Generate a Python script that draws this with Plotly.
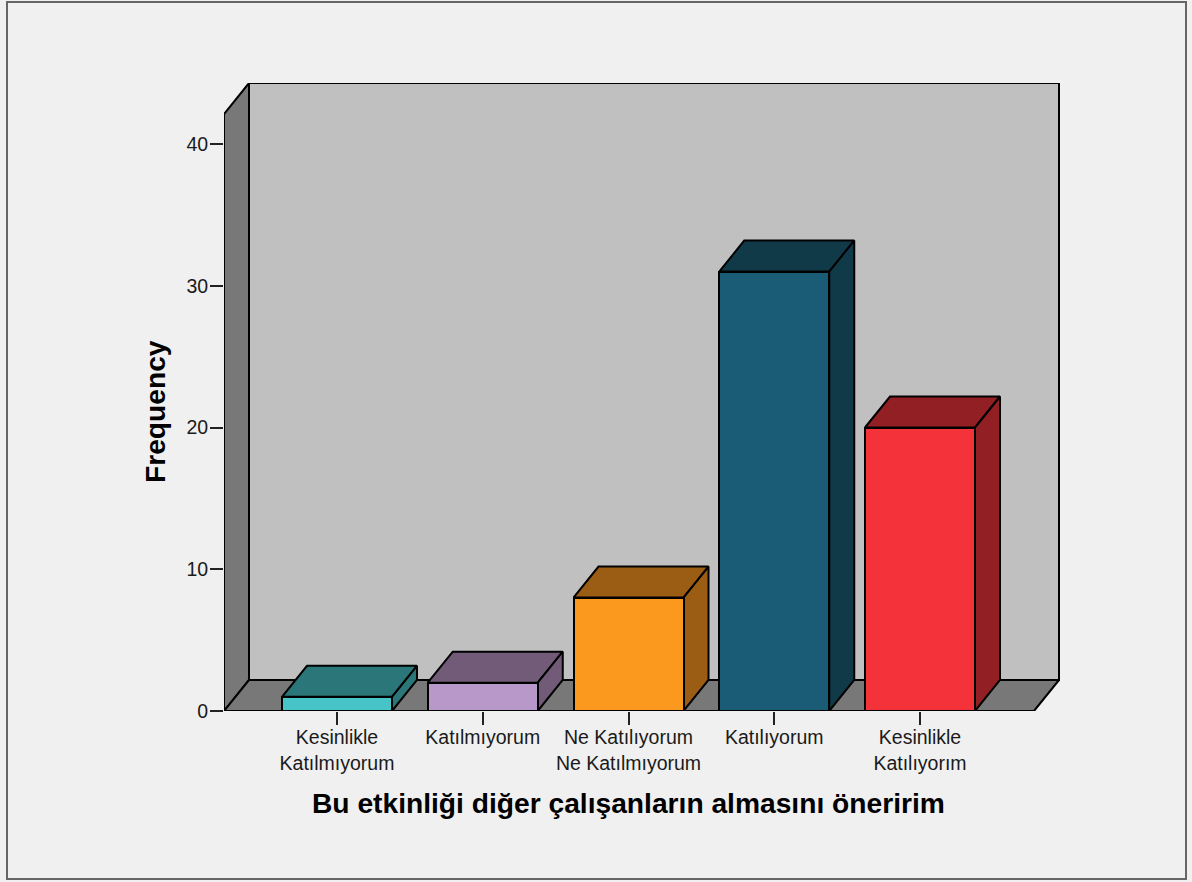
import plotly.graph_objects as go

categories = ["Kesinlikle<br>Katılmıyorum", "Katılmıyorum", "Ne Katılıyorum<br>Ne Katılmıyorum",
              "Katılıyorum", "Kesinlikle<br>Katılıyorım"]
frequency = [1, 2, 8, 31, 20]
front_colors = ["#47c4c8", "#b898c9", "#fb991f", "#1a5c75", "#f33339"]
side_colors = ["#2b7678", "#725b79", "#9b5c13", "#113a49", "#921f23"]
y_ticks = [0, 10, 20, 30, 40]
x_title = "Bu etkinliği diğer çalışanların almasını öneririm"
y_title = "Frequency"

W, H = 1192, 882
L, R, T, B = 224, 1060, 83, 711       # plot area in page pixels
PX_X = 145.75                          # pixels per category
PX_Y = 14.175                          # pixels per frequency unit
FIRST = 337                            # pixel centre of the first bar
DX, DY = 25 / PX_X, 31 / PX_Y          # 3-D depth in data units
BAR_W = 110 / PX_X
x0 = (L - FIRST) / PX_X
x1 = (R - FIRST) / PX_X
xf = x1 - DX - 1 / PX_X                # right end of the front floor edge
y1 = (B - T) / PX_Y
ytop = y1 - DY

LINE = dict(color="#000000", width=2)
FONT = "Liberation Sans, Arial, sans-serif"


def poly(xs, ys, fill, name):
    return go.Scatter(x=xs + xs[:1], y=ys + ys[:1], mode="lines", fill="toself",
                      fillcolor=fill, line=LINE, cliponaxis=False, showlegend=False,
                      hoverinfo="skip", name=name)


fig = go.Figure()
fig.add_trace(poly([x0 + DX, x1 - 1 / PX_X, x1 - 1 / PX_X, x0 + DX], [DY, DY, y1, y1], "#c0c0c0", "back wall"))
fig.add_trace(poly([x0, x0 + DX, x0 + DX, x0], [0, DY, y1, ytop], "#787878", "side wall"))
fig.add_trace(poly([x0, xf, x1 - 1 / PX_X, x0 + DX], [0, 0, DY, DY], "#787878", "floor"))

for i, v in enumerate(frequency):
    a, b = i - BAR_W / 2, i + BAR_W / 2
    fig.add_trace(poly([a, b, b + DX, a + DX], [v, v, v + DY, v + DY], side_colors[i], "top"))
    fig.add_trace(poly([b, b + DX, b + DX, b], [0, DY, v + DY, v], side_colors[i], "side"))

# the front faces sit on an overlaid subplot so they paint above the filled walls
fig.add_trace(go.Bar(x=list(range(len(frequency))), y=frequency, width=BAR_W, xaxis="x2", yaxis="y2",
                     marker=dict(color=front_colors, line=LINE), cliponaxis=False,
                     showlegend=False, name=y_title))

fig.update_layout(
    width=W, height=H, autosize=False,
    margin=dict(l=L, r=W - R, t=T, b=H - B, pad=0),
    paper_bgcolor="#f0f0f0", plot_bgcolor="rgba(0,0,0,0)",
    font=dict(family=FONT, size=19.5, color="#1a1a1a"),
    xaxis=dict(range=[x0, x1], tickmode="array", tickvals=list(range(len(categories))),
               ticktext=categories, ticks="outside", ticklen=13, tickwidth=2, tickcolor="#222",
               showgrid=False, zeroline=False, showline=False, tickangle=0,
               ticklabelstandoff=-4, tickfont=dict(size=19.5)),
    yaxis=dict(range=[0, y1], tickmode="array", tickvals=y_ticks, ticks="outside",
               ticklen=13, tickwidth=2, tickcolor="#222", showgrid=False, zeroline=False,
               showline=False, ticklabelstandoff=-2, tickfont=dict(size=19.5)),
    xaxis2=dict(range=[x0, x1], overlaying="x", visible=False),
    yaxis2=dict(range=[0, y1], overlaying="y", visible=False),
    bargap=0,
    shapes=[dict(type="rect", xref="paper", yref="paper", layer="below",
                 x0=(7 - L) / (R - L), x1=(1186 - L) / (R - L),
                 y0=(B - 879) / (B - T), y1=(B - 2) / (B - T),
                 line=dict(color="#666666", width=2), fillcolor="#f0f0f0")],
    annotations=[
        dict(text=f"<b>{x_title}</b>", xref="paper", yref="paper", showarrow=False,
             x=(628 - L) / (R - L), y=(B - 803) / (B - T), xanchor="center", yanchor="middle",
             font=dict(size=28.2, color="#000000")),
        dict(text=f"<b>{y_title}</b>", xref="paper", yref="paper", showarrow=False, textangle=-90,
             x=(155 - L) / (R - L), y=(B - 412) / (B - T), xanchor="center", yanchor="middle",
             font=dict(size=28.2, color="#000000")),
    ],
)

fig.write_html("out.html", config=dict(displayModeBar=False),
               post_script="document.body.style.margin='0';")
